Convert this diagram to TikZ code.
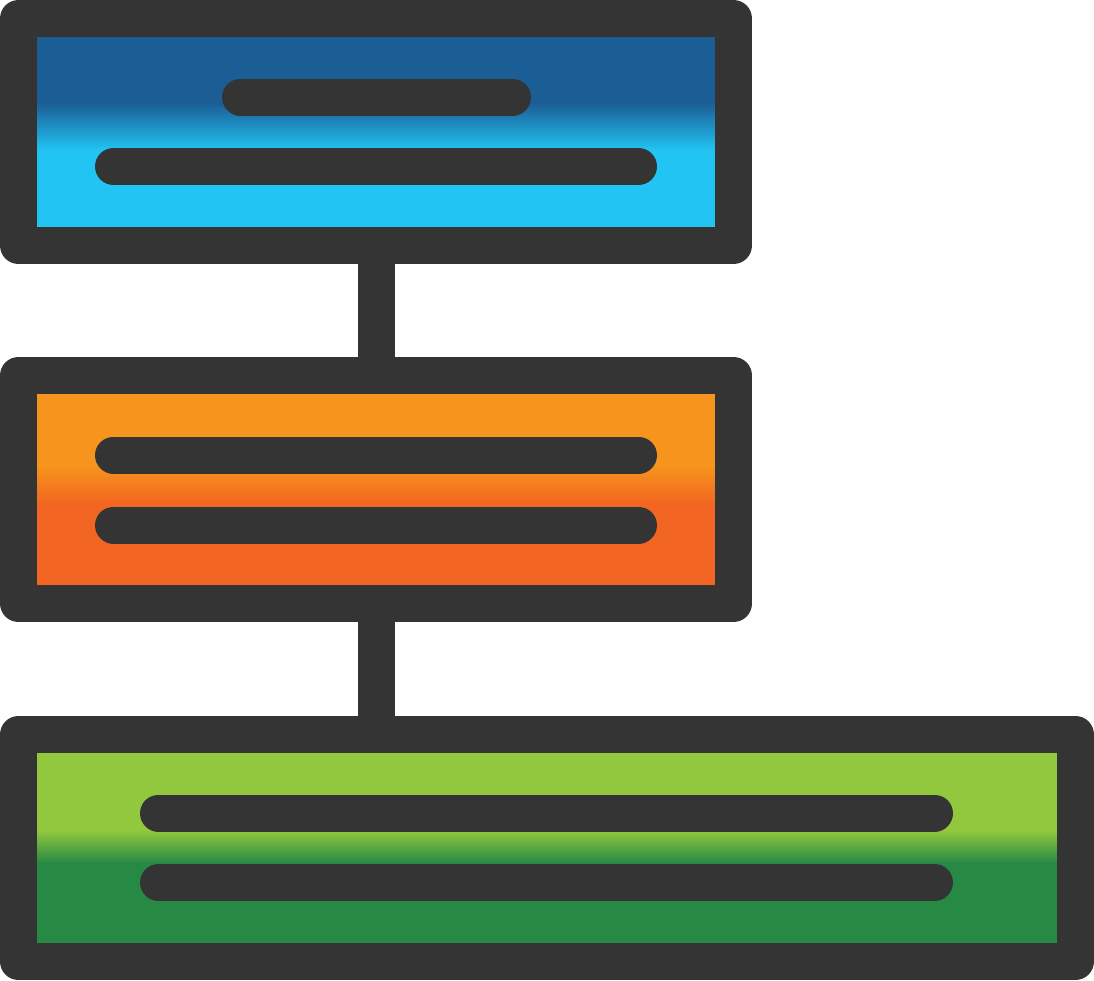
\documentclass[tikz,border=0pt]{standalone}
\usetikzlibrary{positioning}
\definecolor{ink}{HTML}{343434}
\definecolor{blueA}{HTML}{1B5E96}
\definecolor{blueB}{HTML}{21C4F3}
\definecolor{orA}{HTML}{F7941D}
\definecolor{orB}{HTML}{F26522}
\definecolor{grA}{HTML}{92C83E}
\definecolor{grB}{HTML}{278A44}
\tikzset{
  panel/.style={draw=ink, line width=37pt, line join=round, inner sep=0pt, outer sep=0pt, rectangle},
  link/.style={draw=ink, line width=37pt},
  bar/.style={draw=ink, line width=37pt, line cap=round}
}
\begin{document}
\begin{tikzpicture}[x=1pt,y=-1pt]
\useasboundingbox (0,0) rectangle (1094,980);
% fills with gradient bands
\fill[blueA] (18.5,18.5) rectangle (733.5,103);
\shade[top color=blueA,bottom color=blueB] (18.5,103) rectangle (733.5,150);
\fill[blueB] (18.5,150) rectangle (733.5,245.5);
\fill[orA] (18.5,375.5) rectangle (733.5,465);
\shade[top color=orA,bottom color=orB] (18.5,465) rectangle (733.5,505);
\fill[orB] (18.5,505) rectangle (733.5,603.5);
\fill[grA] (18.5,734.5) rectangle (1075.5,830);
\shade[top color=grA,bottom color=grB] (18.5,830) rectangle (1075.5,863);
\fill[grB] (18.5,863) rectangle (1075.5,961.5);
% panels
\node[panel, minimum width=715pt, minimum height=227pt] (top) at (376,132) {};
\node[panel, minimum width=715pt, minimum height=228pt] (mid) at (376,489.5) {};
\node[panel, minimum width=1057pt, minimum height=227pt] (bot) at (547,848) {};
\coordinate (botlink) at (376,734.5);
% connectors
\draw[link] (top.south) -- (mid.north);
\draw[link] (mid.south) -- (botlink);
% text bars
\draw[bar] (240.5,97) -- (512.5,97);
\draw[bar] (113.5,166.5) -- (638.5,166.5);
\draw[bar] (113.5,455) -- (638.5,455);
\draw[bar] (113.5,525) -- (638.5,525);
\draw[bar] (158.5,813) -- (934.5,813);
\draw[bar] (158.5,882.5) -- (934.5,882.5);
\end{tikzpicture}
\end{document}
